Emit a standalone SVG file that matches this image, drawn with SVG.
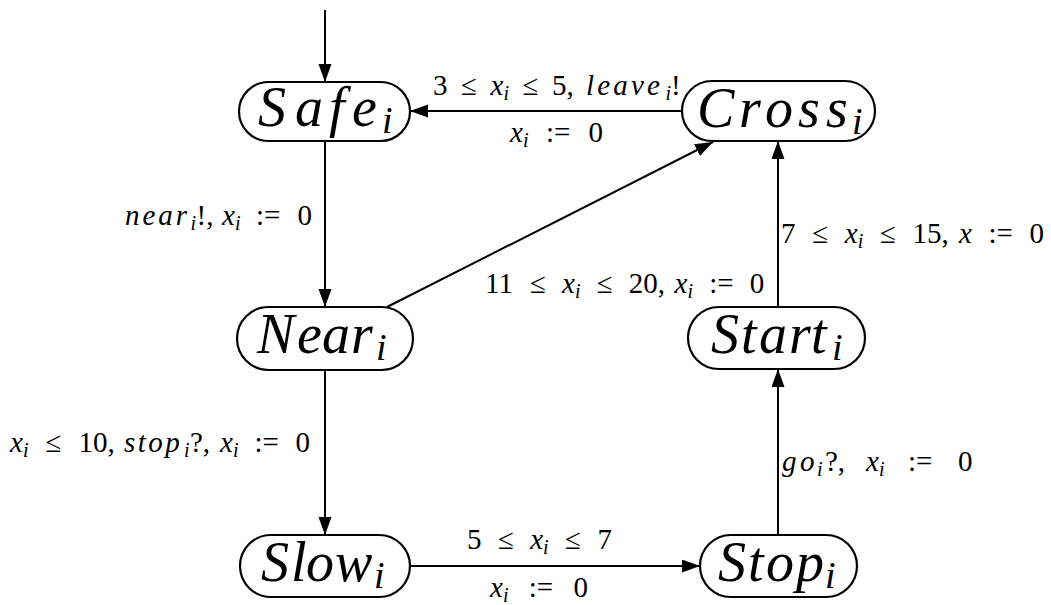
<svg xmlns="http://www.w3.org/2000/svg" width="1051" height="605" viewBox="0 0 1051 605" font-family="Liberation Serif, serif">
<style>
.node rect{fill:#fff;stroke:#000;stroke-width:2.2}
.nl{font-style:italic;font-size:56px;fill:#000}
.ns{font-size:38px}
.el{font-size:29px;fill:#000}
.it{font-style:italic}
.sb{font-style:italic;font-size:20px}
#edges line{stroke:#000;stroke-width:2;fill:none;marker-end:url(#ah)}
</style>
<defs>
<marker id="ah" markerUnits="userSpaceOnUse" markerWidth="20" markerHeight="14" refX="18" refY="6.5" orient="auto">
<path d="M0,0 L18,6.5 L0,13 z" fill="#000"/>
</marker>
</defs>
<rect width="1051" height="605" fill="#fff"/>
<g id="edges">
<line x1="325" y1="10" x2="325" y2="82"/>
<line x1="682" y1="111" x2="410" y2="111"/>
<line x1="325" y1="141" x2="325" y2="307"/>
<line x1="387" y1="307" x2="713" y2="142"/>
<line x1="778" y1="307" x2="778" y2="141"/>
<line x1="325" y1="370" x2="325" y2="535"/>
<line x1="410" y1="566" x2="700" y2="566"/>
<line x1="778" y1="535" x2="778" y2="369"/>
</g>
<g id="labels">
<text class="el" y="95"><tspan x="433">3</tspan><tspan x="461">≤</tspan><tspan class="it" x="490.5">x</tspan><tspan class="sb" x="503.5" dy="5">i</tspan><tspan x="522.5" dy="-5">≤</tspan><tspan x="552">5,</tspan><tspan class="it" x="586" letter-spacing="3.2">leave</tspan><tspan class="sb" x="665.5" dy="5">i</tspan><tspan x="671" dy="-5">!</tspan></text>
<text class="el" y="142"><tspan class="it" x="510">x</tspan><tspan class="sb" x="523" dy="5">i</tspan><tspan x="546" dy="-5">:=</tspan><tspan x="588.5">0</tspan></text>
<text class="el" y="225"><tspan class="it" x="125" letter-spacing="3">near</tspan><tspan class="sb" x="190.5" dy="5">i</tspan><tspan x="196.5" dy="-5">!,</tspan><tspan class="it" x="222">x</tspan><tspan class="sb" x="235" dy="5">i</tspan><tspan x="256" dy="-5">:=</tspan><tspan x="297.5">0</tspan></text>
<text class="el" y="452"><tspan class="it" x="10">x</tspan><tspan class="sb" x="23" dy="5">i</tspan><tspan x="45.5" dy="-5">≤</tspan><tspan x="78.4">10,</tspan><tspan class="it" x="124" letter-spacing="2.5">stop</tspan><tspan class="sb" x="184" dy="5">i</tspan><tspan x="190" dy="-5">?,</tspan><tspan class="it" x="220">x</tspan><tspan class="sb" x="233" dy="5">i</tspan><tspan x="254.5" dy="-5">:=</tspan><tspan x="295.4">0</tspan></text>
<text class="el" y="293"><tspan x="485">11</tspan><tspan x="530">≤</tspan><tspan class="it" x="562">x</tspan><tspan class="sb" x="575" dy="5">i</tspan><tspan x="596.7" dy="-5">≤</tspan><tspan x="628.7">20,</tspan><tspan class="it" x="674.6">x</tspan><tspan class="sb" x="687.5" dy="5">i</tspan><tspan x="709.2" dy="-5">:=</tspan><tspan x="749.7">0</tspan></text>
<text class="el" y="243"><tspan x="781">7</tspan><tspan x="812.2">≤</tspan><tspan class="it" x="844.8">x</tspan><tspan class="sb" x="857.7" dy="5">i</tspan><tspan x="880" dy="-5">≤</tspan><tspan x="912.6">15,</tspan><tspan class="it" x="958.9">x</tspan><tspan x="988.5">:=</tspan><tspan x="1029.6">0</tspan></text>
<text class="el" y="471"><tspan class="it" x="782">g</tspan><tspan class="it" x="800">o</tspan><tspan class="sb" x="817" dy="5">i</tspan><tspan x="825" dy="-5">?,</tspan><tspan class="it" x="866">x</tspan><tspan class="sb" x="879" dy="5">i</tspan><tspan x="908" dy="-5">:=</tspan><tspan x="958">0</tspan></text>
<text class="el" y="549"><tspan x="467">5</tspan><tspan x="497.9">≤</tspan><tspan class="it" x="530.2">x</tspan><tspan class="sb" x="543.1" dy="5">i</tspan><tspan x="565.1" dy="-5">≤</tspan><tspan x="597.4">7</tspan></text>
<text class="el" y="597"><tspan class="it" x="490">x</tspan><tspan class="sb" x="503" dy="5">i</tspan><tspan x="528.8" dy="-5">:=</tspan><tspan x="573.5">0</tspan></text>
</g>
<g id="safe" class="node">
<rect x="239" y="82" width="171" height="59" rx="29.5"/>
<text class="nl" y="126"><tspan x="258">S</tspan><tspan x="295">a</tspan><tspan x="329">f</tspan><tspan x="352">e</tspan><tspan class="ns" x="382" y="133">i</tspan></text>
</g>
<g id="cross" class="node">
<rect x="682" y="81" width="193" height="60" rx="30"/>
<text class="nl" y="127"><tspan x="697">C</tspan><tspan x="739">r</tspan><tspan x="765">o</tspan><tspan x="798">s</tspan><tspan x="826">s</tspan><tspan class="ns" x="852" y="134">i</tspan></text>
</g>
<g id="near" class="node">
<rect x="237" y="307" width="176" height="63" rx="31.5"/>
<text class="nl" y="353"><tspan x="257">N</tspan><tspan x="297">e</tspan><tspan x="322">a</tspan><tspan x="351">r</tspan><tspan class="ns" x="376" y="360">i</tspan></text>
</g>
<g id="start" class="node">
<rect x="688" y="307" width="177" height="62" rx="31"/>
<text class="nl" y="353"><tspan x="711">S</tspan><tspan x="741">t</tspan><tspan x="759">a</tspan><tspan x="789">r</tspan><tspan x="811">t</tspan><tspan class="ns" x="832" y="360">i</tspan></text>
</g>
<g id="slow" class="node">
<rect x="240" y="535" width="170" height="62" rx="31"/>
<text class="nl" y="581"><tspan x="261">S</tspan><tspan x="291">l</tspan><tspan x="306">o</tspan><tspan x="335">w</tspan><tspan class="ns" x="374" y="588">i</tspan></text>
</g>
<g id="stop" class="node">
<rect x="700" y="535" width="157" height="62" rx="31"/>
<text class="nl" y="581"><tspan x="718">S</tspan><tspan x="748">t</tspan><tspan x="766">o</tspan><tspan x="796">p</tspan><tspan class="ns" x="825" y="588">i</tspan></text>
</g>
</svg>
